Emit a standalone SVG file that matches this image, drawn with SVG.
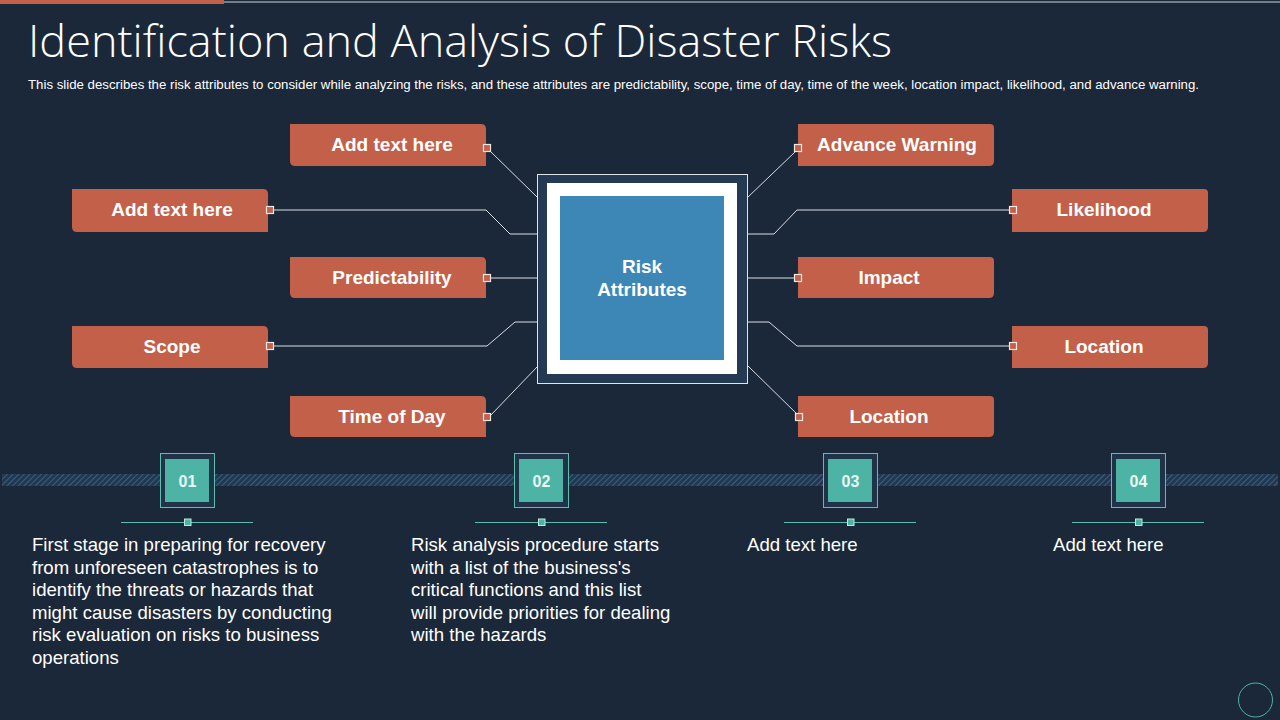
<svg xmlns="http://www.w3.org/2000/svg" width="1280" height="720" viewBox="0 0 1280 720">
<defs>
<pattern id="hatch" width="4" height="4" patternUnits="userSpaceOnUse" patternTransform="rotate(45)">
<rect width="4" height="4" fill="#22384f"/>
<line x1="0" y1="0" x2="0" y2="4" stroke="#3a5f80" stroke-width="2"/>
</pattern>
<style>
.bg{fill:#1b2839}
.node{fill:#c2604a}
.nt{font-family:"Liberation Sans",Arial,sans-serif;font-weight:bold;font-size:19px;fill:#ffffff;text-anchor:middle}
.conn{fill:none;stroke:#d9dde3;stroke-width:1}
.port{fill:#c2604a;stroke:#f2e8e4;stroke-width:1.2}
.body{font-family:"Liberation Sans",Arial,sans-serif;font-size:18.6px;fill:#ffffff}
.num{font-family:"Liberation Sans",Arial,sans-serif;font-weight:bold;font-size:16px;fill:#eaf7f5;text-anchor:middle}
.nbox{fill:#1f3448;stroke:#5fbdb0;stroke-width:1}
.ninner{fill:#4db3a4}
.tl{stroke:#5fbdb0;stroke-width:1}
.tsq{fill:#4db3a4;stroke:#bfe8e2;stroke-width:1}
</style>
</defs>
<rect class="bg" x="0" y="0" width="1280" height="720"/>
<rect x="0" y="0" width="224" height="4" fill="#c2604a"/>
<line x1="224" y1="2" x2="1280" y2="2" stroke="#c9d3dc" stroke-width="1.2"/>
<text x="28" y="57" font-family="'Open Sans','Lato',sans-serif" font-weight="300" font-size="44" fill="#ffffff" textLength="864" lengthAdjust="spacingAndGlyphs">Identification and Analysis of Disaster Risks</text>
<text x="28" y="89" font-family="'Liberation Sans',Arial,sans-serif" font-size="12.5" fill="#ffffff" textLength="1171" lengthAdjust="spacingAndGlyphs">This slide describes the risk attributes to consider while analyzing the risks, and these attributes are predictability, scope, time of day, time of the week, location impact, likelihood, and advance warning.</text>

<g id="connectors">
<polyline class="conn" points="490,151 537,197"/>
<polyline class="conn" points="274,210 486,210 510,234 537,234"/>
<polyline class="conn" points="490,278 537,278"/>
<polyline class="conn" points="274,346 487,346 515,322 537,322"/>
<polyline class="conn" points="490,416 537,367"/>
<polyline class="conn" points="747,198 795,152"/>
<polyline class="conn" points="747,234 774,234 797,210 1010,210"/>
<polyline class="conn" points="747,278 795,278"/>
<polyline class="conn" points="747,322 769,322 797,346 1010,346"/>
<polyline class="conn" points="747,365 799,416"/>
</g>

<g id="center">
<rect x="537.5" y="174.5" width="210" height="209" fill="#243a53" stroke="#dfe5ea" stroke-width="1"/>
<rect x="547" y="183" width="190" height="191" fill="#ffffff"/>
<rect x="560" y="196" width="164" height="164" fill="#3d87b6"/>
<text class="nt" x="642" y="273">Risk</text>
<text class="nt" x="642" y="296">Attributes</text>
</g>

<g id="n-l1"><path class="node" d="M290,124 H481 Q486,124 486,129 V166 H295 Q290,166 290,161 Z"/><text class="nt" x="392" y="151">Add text here</text><rect class="port" x="483.5" y="144.5" width="7" height="7"/></g>
<g id="n-l2"><path class="node" d="M72,189 H263 Q268,189 268,194 V232 H77 Q72,232 72,227 Z"/><text class="nt" x="172" y="216">Add text here</text><rect class="port" x="266.5" y="206.5" width="7" height="7"/></g>
<g id="n-l3"><path class="node" d="M290,257 H481 Q486,257 486,262 V298 H295 Q290,298 290,293 Z"/><text class="nt" x="392" y="284">Predictability</text><rect class="port" x="483.5" y="274.5" width="7" height="7"/></g>
<g id="n-l4"><path class="node" d="M72,326 H263 Q268,326 268,331 V368 H77 Q72,368 72,363 Z"/><text class="nt" x="172" y="353">Scope</text><rect class="port" x="266.5" y="342.5" width="7" height="7"/></g>
<g id="n-l5"><path class="node" d="M290,396 H481 Q486,396 486,401 V437 H295 Q290,437 290,432 Z"/><text class="nt" x="392" y="423">Time of Day</text><rect class="port" x="483.5" y="413.5" width="7" height="7"/></g>

<g id="n-r1"><path class="node" d="M798,124 H990 Q994,124 994,128 V161 Q994,166 989,166 H798 Z"/><text class="nt" x="897" y="151">Advance Warning</text><rect class="port" x="794.5" y="144.5" width="7" height="7"/></g>
<g id="n-r2"><path class="node" d="M1012,189 H1204 Q1208,189 1208,193 V227 Q1208,232 1203,232 H1012 Z"/><text class="nt" x="1104" y="216">Likelihood</text><rect class="port" x="1009.5" y="206.5" width="7" height="7"/></g>
<g id="n-r3"><path class="node" d="M798,257 H990 Q994,257 994,261 V293 Q994,298 989,298 H798 Z"/><text class="nt" x="889" y="284">Impact</text><rect class="port" x="794.5" y="274.5" width="7" height="7"/></g>
<g id="n-r4"><path class="node" d="M1012,326 H1204 Q1208,326 1208,330 V363 Q1208,368 1203,368 H1012 Z"/><text class="nt" x="1104" y="353">Location</text><rect class="port" x="1009.5" y="342.5" width="7" height="7"/></g>
<g id="n-r5"><path class="node" d="M798,396 H990 Q994,396 994,400 V432 Q994,437 989,437 H798 Z"/><text class="nt" x="889" y="423">Location</text><rect class="port" x="795.5" y="413.5" width="7" height="7"/></g>

<g id="timeline">
<rect x="2" y="474" width="1276" height="12" fill="url(#hatch)"/>
</g>

<g id="step1">
<rect class="nbox" x="160.5" y="453.5" width="54" height="54"/>
<rect class="ninner" x="165" y="459" width="44" height="43"/>
<text class="num" x="187.5" y="486.5">01</text>
<line class="tl" x1="121" y1="522.5" x2="253" y2="522.5"/>
<rect class="tsq" x="184.5" y="519" width="6.5" height="6.5"/>
<text class="body"><tspan x="32" y="551">First stage in preparing for recovery</tspan><tspan x="32" y="573.5">from unforeseen catastrophes is to</tspan><tspan x="32" y="596">identify the threats or hazards that</tspan><tspan x="32" y="618.5">might cause disasters by conducting</tspan><tspan x="32" y="641">risk evaluation on risks to business</tspan><tspan x="32" y="663.5">operations</tspan></text>
</g>
<g id="step2">
<rect class="nbox" x="514.5" y="453.5" width="54" height="54"/>
<rect class="ninner" x="519" y="459" width="44" height="43"/>
<text class="num" x="541.5" y="486.5">02</text>
<line class="tl" x1="475" y1="522.5" x2="607" y2="522.5"/>
<rect class="tsq" x="538.5" y="519" width="6.5" height="6.5"/>
<text class="body"><tspan x="411" y="551">Risk analysis procedure starts</tspan><tspan x="411" y="573.5">with a list of the business's</tspan><tspan x="411" y="596">critical functions and this list</tspan><tspan x="411" y="618.5">will provide priorities for dealing</tspan><tspan x="411" y="641">with the hazards</tspan></text>
</g>
<g id="step3">
<rect class="nbox" x="823.5" y="453.5" width="54" height="54"/>
<rect class="ninner" x="828" y="459" width="44" height="43"/>
<text class="num" x="850.5" y="486.5">03</text>
<line class="tl" x1="784" y1="522.5" x2="916" y2="522.5"/>
<rect class="tsq" x="847.5" y="519" width="6.5" height="6.5"/>
<text class="body" x="747" y="551">Add text here</text>
</g>
<g id="step4">
<rect class="nbox" x="1111.5" y="453.5" width="54" height="54"/>
<rect class="ninner" x="1116" y="459" width="44" height="43"/>
<text class="num" x="1138.5" y="486.5">04</text>
<line class="tl" x1="1072" y1="522.5" x2="1204" y2="522.5"/>
<rect class="tsq" x="1135.5" y="519" width="6.5" height="6.5"/>
<text class="body" x="1053" y="551">Add text here</text>
</g>
<circle cx="1255.5" cy="700" r="17" fill="none" stroke="#4db3a4" stroke-width="1"/>
</svg>
